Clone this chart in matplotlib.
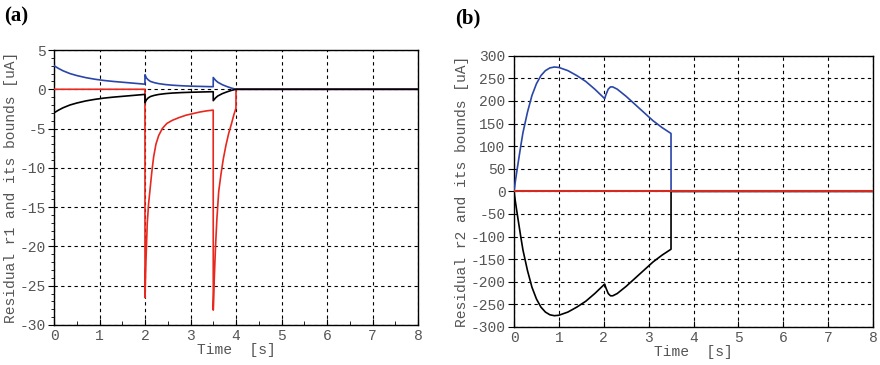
import matplotlib
matplotlib.use("Agg")
import matplotlib.pyplot as plt
from matplotlib.ticker import MultipleLocator

plt.rcParams['axes.unicode_minus'] = False

# ---------------- Panel (a) data ----------------
a_bound_t = [0.0, 0.1, 0.2, 0.35, 0.5, 0.7, 0.9, 1.1, 1.3, 1.5, 1.7, 1.9, 1.999,
             2.0, 2.03, 2.07, 2.12, 2.2, 2.3, 2.45, 2.6, 2.8, 3.0, 3.2, 3.4, 3.499,
             3.5, 3.55, 3.6, 3.7, 3.8, 3.9, 4.0, 8.0]
a_upper = [3.0, 2.65, 2.35, 2.0, 1.75, 1.48, 1.28, 1.12, 1.0, 0.9, 0.8, 0.7, 0.65,
           1.85, 1.45, 1.2, 1.0, 0.85, 0.72, 0.6, 0.52, 0.45, 0.4, 0.37, 0.34, 0.33,
           1.5, 1.15, 0.9, 0.58, 0.35, 0.15, 0.0, 0.0]
a_lower = [-3.0, -2.65, -2.35, -2.0, -1.75, -1.48, -1.28, -1.12, -1.0, -0.9, -0.8, -0.7, -0.65,
           -1.7, -1.35, -1.1, -0.92, -0.78, -0.66, -0.55, -0.48, -0.42, -0.38, -0.35, -0.32, -0.31,
           -1.45, -1.1, -0.85, -0.55, -0.33, -0.14, 0.0, 0.0]

a_res_t = [0.0, 1.999, 2.0, 2.02, 2.05, 2.08, 2.11, 2.15, 2.19, 2.24, 2.3, 2.38, 2.48,
           2.6, 2.75, 2.9, 3.05, 3.2, 3.35, 3.499, 3.5, 3.52, 3.55, 3.58, 3.62, 3.67,
           3.72, 3.78, 3.84, 3.9, 3.95, 3.999, 4.0, 8.0]
a_res = [0.0, 0.0, -26.5, -22.0, -17.0, -14.5, -12.8, -10.5, -8.6, -7.0, -5.9, -5.0, -4.35,
         -3.95, -3.6, -3.3, -3.1, -2.9, -2.75, -2.65, -28.1, -24.5, -20.0, -16.5, -13.0, -10.8,
         -8.9, -7.1, -5.6, -4.4, -3.3, -2.4, 0.0, 0.0]

# ---------------- Panel (b) data ----------------
b_t = [0.0, 0.03, 0.06, 0.1, 0.15, 0.2, 0.3, 0.4, 0.5, 0.6, 0.7, 0.8, 0.9, 1.0,
       1.2, 1.4, 1.6, 1.8, 2.0, 2.02, 2.05, 2.1, 2.15, 2.2, 2.3, 2.5, 2.7, 2.9,
       3.1, 3.3, 3.499, 3.5, 8.0]
b_upper = [0, 22, 42, 68, 100, 130, 175, 212, 238, 256, 267, 273, 275, 274,
           267, 256, 243, 226, 207, 205, 214, 226, 231, 231, 226, 210, 192, 174,
           156, 141, 128, 0, 0]
b_lower = [-v for v in b_upper]
b_res_t = [0.0, 8.0]
b_res = [0.0, 0.0]

BLUE = '#2a46a8'
RED = '#e8281e'
BLACK = '#000000'
GRAY = '#555555'
MONO = 'Liberation Mono'

fig = plt.figure(figsize=(8.8, 3.65), dpi=100)
W, H = 880, 365
ax1 = fig.add_axes([54 / W, 1 - 325 / H, (418 - 54) / W, (325 - 50) / H])
ax2 = fig.add_axes([514 / W, 1 - 327 / H, (873 - 514) / W, (327 - 55.7) / H])

ax1.plot(a_res_t, a_res, color=RED, lw=1.2, zorder=3)
ax1.plot(a_bound_t, a_upper, color=BLUE, lw=1.2, zorder=4)
ax1.plot(a_bound_t, a_lower, color=BLACK, lw=1.2, zorder=5)

ax2.plot(b_t, b_upper, color=BLUE, lw=1.2, zorder=3)
ax2.plot(b_t, b_lower, color=BLACK, lw=1.2, zorder=4)
ax2.plot(b_res_t, b_res, color='#d42a1e', lw=1.5, zorder=5)

ax1.set_xlim(0, 8)
ax1.set_ylim(-30, 5)
ax1.xaxis.set_major_locator(MultipleLocator(1))
ax1.xaxis.set_minor_locator(MultipleLocator(0.5))
ax1.yaxis.set_major_locator(MultipleLocator(5))
ax1.yaxis.set_minor_locator(MultipleLocator(1))

ax2.set_xlim(0, 8)
ax2.set_ylim(-300, 300)
ax2.xaxis.set_major_locator(MultipleLocator(1))
ax2.yaxis.set_major_locator(MultipleLocator(50))

for ax, ylab in ((ax1, 'Residual r1 and its bounds [uA]'),
                 (ax2, 'Residual r2 and its bounds [uA]')):
    ax.grid(True, which='major', color='black', linestyle=(0, (3, 3)), lw=0.8)
    ax.set_axisbelow(True)
    for s in ax.spines.values():
        s.set_color('black')
        s.set_linewidth(1.0)
    ax.tick_params(axis='y', which='both', direction='out', colors='black',
                   labelcolor=GRAY, labelsize=10.5, pad=2)
    ax.tick_params(axis='y', which='major', length=4)
    ax.tick_params(axis='y', which='minor', length=2)
    ax.tick_params(axis='x', which='both', direction='in', colors='black',
                   labelcolor=GRAY, labelsize=10.5, pad=3)
    ax.tick_params(axis='x', which='major', length=4)
    ax.tick_params(axis='x', which='minor', length=3)
    for lab in ax.get_xticklabels() + ax.get_yticklabels():
        lab.set_fontfamily(MONO)
    ax.set_xlabel('Time  [s]', fontfamily=MONO, fontsize=10.5, color=GRAY, labelpad=0)
    ax.set_ylabel(ylab, fontfamily=MONO, fontsize=10.5, color=GRAY, labelpad=1)

fig.text(4 / W, 1 - 16 / H, '(a)', fontfamily='Liberation Serif', fontweight='bold',
         fontsize=15, va='center', ha='left')
fig.text(455 / W, 1 - 18 / H, '(b)', fontfamily='Liberation Serif', fontweight='bold',
         fontsize=15, va='center', ha='left')

fig.savefig('out.png', dpi=100)
